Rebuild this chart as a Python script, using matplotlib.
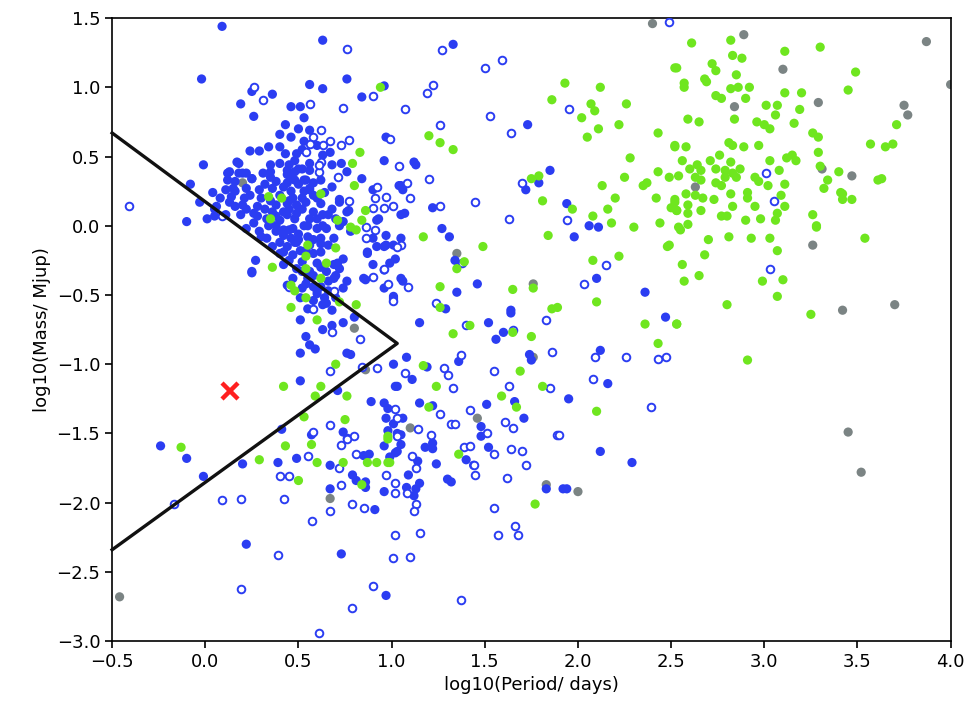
import matplotlib
matplotlib.use("Agg")
import matplotlib.pyplot as plt

blue_filled = [
(0.09,1.44),(0.63,1.34),(-0.02,1.06),(0.56,1.02),(0.63,0.99),(0.76,1.06),(0.84,0.93),(0.96,1.01),(0.25,0.97),(0.36,0.95),
(0.19,0.88),(0.46,0.86),(0.51,0.86),(0.26,0.79),(0.53,0.78),(0.56,0.69),(0.40,0.66),(0.46,0.64),(0.53,0.61),(0.34,0.57),
(0.24,0.54),(0.29,0.54),(0.43,0.52),(0.49,0.52),(0.63,0.51),(0.67,0.53),(0.97,0.64),(0.96,0.47),(1.04,0.29),(-0.01,0.44),
(0.17,0.46),(0.68,0.44),(0.73,0.45),(0.76,0.39),(0.84,0.34),(0.90,0.26),(0.72,0.19),(0.77,0.11),(0.93,0.05),(-0.08,0.30),
(-0.03,0.17),(-0.10,0.03),(0.01,0.05),(0.05,0.12),(0.13,0.39),(0.18,0.38),(0.22,0.38),(0.12,0.33),(0.16,0.32),(0.25,0.34),
(0.11,0.26),(0.15,0.27),(0.21,0.20),(0.35,0.39),(0.35,0.35),(0.52,0.20),(0.44,0.40),(0.48,0.39),(0.52,0.41),(0.56,0.45),
(0.54,0.33),(0.56,0.26),(0.44,0.31),(0.48,0.33),
(0.18,0.45),(0.45,0.44),(0.50,0.41),(0.56,0.40),
(0.12,0.38),(0.20,0.38),(0.25,0.34),(0.44,0.37),(0.47,0.34),(0.53,0.33),(0.62,0.33),
(0.16,0.25),(0.22,0.27),(0.29,0.26),(0.36,0.27),(0.46,0.25),(0.53,0.25),(0.56,0.27),
(0.06,0.14),(0.13,0.17),(0.20,0.15),(0.28,0.14),(0.38,0.15),(0.44,0.16),(0.49,0.15),(0.54,0.17),(0.62,0.16),(0.72,0.17),(0.76,0.10),
(0.05,0.07),(0.11,0.08),(0.19,0.08),(0.26,0.09),(0.38,0.07),(0.44,0.08),(0.49,0.09),(0.56,0.05),(0.63,0.08),(0.74,0.03),(0.92,0.04),(1.05,0.08),
(0.22,-0.02),(0.29,-0.04),(0.38,0.00),(0.42,-0.03),(0.47,-0.02),(0.53,0.00),(0.60,-0.02),(0.65,-0.02),(0.72,0.00),
(0.33,-0.09),(0.40,-0.12),(0.46,-0.09),(0.49,-0.12),(0.62,-0.09),(0.69,-0.09),(0.78,-0.04),(0.90,-0.09),(0.96,-0.15),(1.01,-0.14),
(0.42,-0.19),(0.47,-0.21),(0.51,-0.18),(0.58,-0.20),(0.62,-0.19),(0.74,-0.24),(0.87,-0.19),(0.90,-0.28),
(0.25,-0.33),(0.27,-0.25),(0.42,-0.28),(0.49,-0.31),(0.56,-0.33),(0.69,-0.28),(0.72,-0.31),(0.85,-0.38),(0.99,-0.27),(1.05,-0.38),
(0.47,-0.38),(0.54,-0.42),(0.62,-0.44),(0.69,-0.38),(0.76,-0.40),(1.01,-0.52),(0.96,-0.45),
(0.51,-0.52),(0.58,-0.54),(0.63,-0.57),(0.70,-0.52),
(0.32,0.12),(0.35,0.02),(0.40,0.04),(0.45,0.12),(0.52,0.12),(0.58,0.10),(0.33,0.05),(0.42,-0.07),(0.50,-0.06),(0.55,-0.08),
(0.56,-0.14),(0.52,-0.26),(0.60,-0.27),(0.65,-0.33),(0.55,-0.38),(0.60,-0.47),(0.30,0.20),(0.40,0.22),(0.47,0.20),(0.58,0.22),
(0.64,0.24),(0.68,0.12),(0.36,0.10),(0.26,0.02),(0.30,-0.08),(0.08,0.20),(0.04,0.24),(0.66,-0.14),(0.44,-0.15),(0.52,-0.45),(0.66,-0.47),
(0.32,0.30),(0.38,0.32),(0.42,0.28),(0.50,0.30),(0.58,0.31),(0.60,0.20),(0.35,0.18),(0.42,0.10),(0.48,0.05),(0.55,0.00),
(0.60,0.05),(0.63,0.00),(0.45,-0.03),(0.50,-0.10),(0.58,-0.10),(0.62,-0.13),(0.54,-0.18),(0.45,-0.25),(0.52,-0.33),(0.58,-0.36),
(0.62,-0.30),(0.66,-0.40),(0.58,-0.44),(0.64,-0.52),(0.55,-0.60),(0.48,-0.12),(0.38,-0.04),(0.34,0.00),(0.28,0.07),(0.22,0.12),
(0.16,0.14),(0.14,0.21),(0.24,0.22),(0.31,0.38),(0.40,0.45),(0.48,0.47),(0.52,0.55),(0.40,0.57),(0.60,0.58),(0.50,0.70),
(0.43,0.73),(0.35,0.44),(0.68,0.28),(0.70,0.05),(0.66,0.08),(0.45,0.18),(0.40,-0.20),(0.36,-0.15),(0.70,-0.36),(0.74,-0.45),
(0.44,-0.43),(0.60,-0.49),(0.65,-0.56),(0.68,-0.61),(0.51,-0.68),(0.63,-0.75),(0.68,-0.72),(0.74,-0.70),(0.80,-0.66),(0.54,-0.80),
(0.56,-0.86),(0.59,-0.89),(0.51,-0.92),(0.76,-0.92),(0.78,-0.93),(1.01,-1.00),(0.51,-1.12),(0.71,-1.19),(1.03,-1.16),(0.89,-1.27),
(0.96,-1.28),(0.98,-1.32),(0.97,-1.39),(1.01,-1.43),(0.98,-1.48),(1.03,-1.50),(0.57,-1.51),(0.74,-1.49),(0.41,-1.47),(1.02,-0.24),
(0.96,-0.32),(0.87,-0.20),(0.92,-0.15),(0.97,-0.14),(1.01,-0.51),(1.05,-0.09),(0.97,-0.07),(0.86,-0.39),(0.71,-0.27),(0.25,-0.34),
(-0.24,-1.59),(-0.10,-1.68),(-0.01,-1.81),(0.20,-1.72),(0.39,-1.71),(0.49,-1.68),(0.67,-1.73),(0.67,-1.90),(0.79,-1.80),(0.81,-1.84),
(0.86,-1.85),(0.86,-1.89),(0.85,-1.66),(0.88,-1.65),(0.96,-1.59),(1.03,-1.63),(0.99,-1.67),(0.96,-1.92),(0.91,-2.05),(0.22,-2.30),
(0.73,-2.37),(0.97,-2.67),(1.05,-1.51),
(1.27,-0.02),(1.31,-0.08),(1.34,-0.25),(1.06,-0.40),(1.46,-0.42),(1.35,-0.48),(1.01,-0.53),(1.29,-0.60),(1.64,-0.61),(1.64,-0.63),
(1.15,-0.70),(1.52,-0.70),(1.60,-0.77),(1.56,-0.82),(1.08,-0.95),(1.36,-0.98),(1.74,-0.93),(1.75,-0.97),(1.19,-1.02),(1.11,-1.11),
(1.02,-1.16),(1.51,-1.29),(1.66,-1.27),(1.15,-1.28),(1.22,-1.30),(1.71,-1.39),(1.06,-1.39),(1.48,-1.45),(1.48,-1.52),(1.95,-1.25),
(1.98,-0.08),(2.10,-0.38),(2.36,-0.48),(2.47,-0.66),(2.12,-0.90),(2.16,-1.14),
(1.05,-1.58),(1.02,-1.64),(1.18,-1.60),(1.22,-1.57),(1.22,-1.61),(1.14,-1.70),(1.09,-1.80),(1.08,-1.89),(1.13,-1.90),(1.12,-1.95),
(1.15,-1.86),(1.24,-1.72),(1.30,-1.83),(1.32,-1.85),(1.40,-1.69),(1.44,-1.73),(1.52,-1.60),(1.83,-1.90),(1.92,-1.90),(1.94,-1.90),
(2.12,-1.63),(2.29,-1.71),
(1.33,1.31),(1.73,0.73),(1.12,0.46),(1.13,0.44),(1.05,0.29),(1.06,0.26),(1.07,0.09),(1.22,0.13),(1.79,0.31),(1.85,0.40),
(1.72,0.26),(1.94,0.16),(2.06,0.00),(2.11,-0.01),
]

blue_open = [
(0.76,1.28),(0.31,0.91),(0.56,0.88),(0.74,0.85),(0.90,0.94),(0.26,1.00),(0.62,0.69),(0.58,0.64),(0.56,0.59),(0.54,0.53),
(0.63,0.58),(0.67,0.61),(0.77,0.62),(0.73,0.58),(0.62,0.46),(0.61,0.39),(0.71,0.35),(1.04,0.43),(0.92,0.28),(0.91,0.20),
(0.97,0.21),(1.01,0.14),(0.96,0.13),(0.90,0.13),(0.77,0.18),(0.86,-0.01),(0.91,-0.03),(-0.41,0.14),(0.09,0.07),
(0.61,0.44),(0.86,-0.09),(1.05,-0.14),(0.96,-0.31),(0.90,-0.37),(0.98,-0.42),
(0.58,-0.60),(0.68,-0.77),(0.83,-0.82),(0.67,-1.05),(0.84,-1.02),(0.92,-1.03),(1.02,-1.32),(1.03,-1.39),(0.67,-1.44),(0.76,-1.53),
(0.80,-1.52),(0.58,-1.49),(1.03,-0.15),(0.45,-0.44),(0.69,-0.47),
(-0.17,-2.01),(0.09,-1.98),(0.19,-1.97),(0.42,-1.97),(0.40,-1.81),(0.45,-1.81),(0.55,-1.66),(0.72,-1.75),(0.73,-1.87),(0.67,-2.06),
(0.57,-2.13),(0.79,-2.01),(0.85,-2.04),(0.73,-1.58),(0.76,-1.54),(0.81,-1.65),(0.97,-1.80),(1.02,-1.86),(1.02,-1.93),(1.02,-2.23),
(1.01,-2.40),(0.39,-2.38),(0.19,-2.62),(0.90,-2.60),(0.79,-2.76),(0.61,-2.94),
(1.09,-0.44),(1.01,-0.54),(1.24,-0.56),(1.40,-0.72),(1.65,-0.75),(1.83,-0.68),(1.86,-0.91),(1.37,-0.93),(1.07,-1.06),(1.28,-1.03),
(1.30,-1.08),(1.55,-1.05),(1.33,-1.17),(1.63,-1.16),(1.85,-1.17),(1.42,-1.33),(1.26,-1.36),(1.32,-1.43),(1.34,-1.43),(1.14,-1.47),
(1.61,-1.42),(1.65,-1.46),(1.51,-1.50),(1.89,-1.51),(1.21,-1.51),(2.03,-0.42),(2.15,-0.28),(2.09,-0.95),(2.08,-1.11),(2.26,-0.95),
(2.43,-0.96),(2.47,-0.95),(2.39,-1.31),(1.38,-0.27),
(1.03,-1.52),(1.11,-1.66),(1.13,-1.75),(1.08,-1.93),(1.13,-2.01),(1.12,-2.06),(1.15,-2.22),(1.10,-2.39),(1.39,-1.60),(1.42,-1.59),
(1.55,-1.65),(1.44,-1.73),(1.45,-1.80),(1.64,-1.61),(1.70,-1.63),(1.72,-1.73),(1.62,-1.82),(1.55,-2.04),(1.66,-2.17),(1.68,-2.23),
(1.57,-2.23),(1.37,-2.70),(1.90,-1.51),
(1.27,1.27),(1.50,1.14),(1.59,1.20),(1.22,1.02),(1.19,0.96),(1.07,0.84),(1.26,0.73),(1.53,0.79),(1.64,0.67),(1.20,0.34),
(1.08,0.31),(1.10,0.20),(1.26,0.14),(1.45,0.17),(1.63,0.05),(1.70,0.31),(1.95,0.84),(1.94,0.04),(2.49,1.47),(0.99,0.63),
(3.01,0.38),(3.05,0.18),(3.03,-0.31),
]

green = [
(0.94,1.00),(0.83,0.53),(0.79,0.45),(0.80,0.29),(0.62,0.23),(0.34,0.21),(0.41,0.20),(0.35,0.05),(0.71,0.04),(0.86,0.11),
(0.84,0.04),(0.78,-0.01),(0.81,-0.03),
(0.55,-0.14),(0.54,-0.22),(0.65,-0.27),(0.54,-0.31),(0.36,-0.30),(0.62,-0.38),(0.46,-0.43),(0.54,-0.52),(0.46,-0.59),(0.72,-0.55),(0.81,-0.57),
(0.70,-0.16),(0.60,-0.68),(0.70,-1.00),(0.62,-1.16),(0.59,-1.23),(0.76,-1.23),(0.42,-1.16),(0.53,-1.38),(0.75,-1.40),(0.98,-1.52),(0.48,-0.47),
(-0.13,-1.60),(0.29,-1.69),(0.43,-1.59),(0.57,-1.58),(0.60,-1.71),(0.74,-1.71),(0.50,-1.84),(0.84,-1.87),(0.87,-1.71),(0.92,-1.71),
(0.98,-1.71),(0.99,-1.71),(0.98,-1.54),
(1.17,-0.08),(1.49,-0.15),(1.39,-0.26),(1.35,-0.31),(1.26,-0.44),(1.65,-0.46),(1.76,-0.45),(1.26,-0.59),(1.42,-0.72),(1.33,-0.78),
(1.65,-0.77),(1.75,-0.80),(1.86,-0.60),(1.89,-0.59),(1.84,-0.07),(2.08,-0.25),(2.22,-0.22),(2.10,-0.55),(2.36,-0.71),(2.43,-0.85),
(2.53,-0.71),(2.48,-0.15),(1.17,-1.01),(1.69,-1.05),(1.24,-1.16),(1.59,-1.23),(1.81,-1.16),(1.67,-1.31),(1.20,-1.31),(2.10,-1.34),
(1.36,-1.65),(1.77,-2.01),
(1.20,0.65),(1.26,0.60),(1.33,0.55),(1.93,1.03),(1.86,0.91),(2.12,1.00),(2.07,0.88),(2.09,0.83),(2.02,0.78),(2.11,0.70),
(2.05,0.64),(2.26,0.88),(2.22,0.73),(2.43,0.67),(2.52,1.14),(2.52,0.58),(2.28,0.49),(2.43,0.39),(2.49,0.35),(2.25,0.35),
(2.35,0.29),(2.37,0.31),(2.13,0.29),(2.20,0.20),(2.42,0.20),(2.52,0.17),(2.50,0.13),(2.53,0.11),(2.16,0.12),(2.08,0.07),
(2.18,0.02),(2.30,-0.01),(2.44,0.02),(1.75,0.34),(1.79,0.36),(1.81,0.18),(1.97,0.12),
(2.61,1.32),(2.82,1.34),(2.83,1.23),(2.88,1.21),(2.53,1.14),(2.72,1.17),(2.74,1.12),(2.85,1.09),(2.57,1.03),(2.57,1.00),
(2.68,1.06),(2.69,1.04),(2.82,0.99),(2.86,1.00),(2.92,1.00),(2.74,0.94),(2.77,0.92),(2.90,0.92),(3.11,1.26),(3.30,1.29),
(3.49,1.11),(3.45,0.98),(3.11,0.96),(3.20,0.96),(3.01,0.87),(3.07,0.87),(3.06,0.80),(3.19,0.84),(2.59,0.77),(2.65,0.75),
(2.84,0.77),(2.96,0.75),(3.00,0.73),(3.03,0.70),(3.16,0.74),(3.26,0.67),(3.29,0.64),(3.29,0.53),(3.71,0.73),(3.57,0.59),
(3.65,0.57),(3.69,0.59),(2.52,0.57),(2.58,0.57),(2.81,0.60),(2.83,0.58),(2.89,0.57),(2.97,0.58),(2.76,0.51),(2.56,0.47),
(2.71,0.47),(2.82,0.46),(3.03,0.47),(3.12,0.49),(3.15,0.51),(3.17,0.47),(2.60,0.41),(2.64,0.44),(2.66,0.40),(2.74,0.41),
(2.79,0.40),(2.83,0.38),(2.87,0.41),(2.54,0.36),(2.63,0.35),(2.66,0.33),(2.79,0.35),(2.85,0.35),(3.08,0.40),(2.95,0.35),
(2.97,0.32),(3.02,0.29),(3.11,0.30),(3.30,0.43),(3.40,0.39),(3.34,0.33),(3.32,0.27),(3.41,0.24),(3.42,0.23),(3.42,0.19),
(3.47,0.19),(3.61,0.33),(3.63,0.34),(2.74,0.31),(2.77,0.29),(2.58,0.23),(2.63,0.22),(2.67,0.20),(2.73,0.19),(2.82,0.23),
(2.91,0.24),(2.91,0.20),(3.09,0.22),(3.11,0.14),(2.52,0.19),(2.53,0.11),(2.59,0.15),(2.59,0.09),(2.66,0.11),(2.83,0.14),
(2.95,0.14),(2.77,0.07),(2.80,0.07),(2.90,0.04),(2.98,0.05),(3.07,0.09),(3.06,0.04),(3.26,0.08),(3.28,0.00),(2.54,-0.01),(2.59,0.01),
(2.55,-0.03),(2.70,-0.10),(2.81,-0.08),(2.93,-0.09),(3.03,-0.09),(2.49,-0.14),(3.07,-0.18),(2.68,-0.21),(2.56,-0.28),(2.65,-0.36),
(2.57,-0.40),(2.99,-0.40),(3.10,-0.39),(3.07,-0.51),(2.80,-0.57),(3.25,-0.64),(2.53,-0.71),(2.91,-0.97),(3.28,-0.01),(3.54,-0.09),
]

gray = [
(0.20,0.31),(0.80,-0.74),(0.86,-1.04),(0.67,-1.97),(-0.46,-2.68),(1.35,-0.20),(1.76,-0.42),(1.76,-0.95),(1.46,-1.39),(1.10,-1.46),
(1.83,-1.87),(2.00,-1.92),(2.40,1.46),(2.89,1.38),(3.10,1.13),(2.84,0.86),(3.29,0.89),(3.75,0.87),(3.77,0.80),(3.87,1.33),
(4.00,1.02),(3.47,0.36),(3.31,0.41),(2.63,0.28),(3.26,-0.14),(3.42,-0.61),(3.70,-0.57),(3.45,-1.49),(3.52,-1.78),
]

boundary_x = [-0.5, 1.03, -0.5]
boundary_y = [0.67, -0.85, -2.34]
marked_point = (0.13, -1.19)

BLUE = '#2b3df2'
GREEN = '#6fe61f'
GRAY = '#7b8484'

fig = plt.figure(figsize=(9.75, 7.22), dpi=100)
ax = fig.add_axes([0.115, 0.112, 0.86, 0.863])

def xs(p): return [a for a, b in p]
def ys(p): return [b for a, b in p]

ax.scatter(xs(gray), ys(gray), s=44, color=GRAY, edgecolors='none', zorder=2)
ax.scatter(xs(blue_filled), ys(blue_filled), s=44, color=BLUE, edgecolors='none', zorder=3)
ax.scatter(xs(blue_open), ys(blue_open), s=30, facecolors='white', edgecolors=BLUE, linewidths=1.4, zorder=3)
ax.scatter(xs(green), ys(green), s=44, color=GREEN, edgecolors='none', zorder=4)

ax.plot(boundary_x, boundary_y, color='#111111', lw=2.4, zorder=5, clip_on=False)
ax.plot([marked_point[0]], [marked_point[1]], marker='x', color='#ff2020', ms=11, mew=3.2, zorder=6)

ax.set_xlim(-0.5, 4.0)
ax.set_ylim(-3.0, 1.5)
ax.set_xticks([-0.5, 0.0, 0.5, 1.0, 1.5, 2.0, 2.5, 3.0, 3.5, 4.0])
ax.set_yticks([-3.0, -2.5, -2.0, -1.5, -1.0, -0.5, 0.0, 0.5, 1.0, 1.5])
ax.tick_params(labelsize=13, length=5, width=1.2)
for sp in ax.spines.values():
    sp.set_linewidth(1.2)
ax.set_xlabel('log10(Period/ days)', fontsize=13)
ax.set_ylabel('log10(Mass/ Mjup)', fontsize=13)

fig.savefig('out.png', dpi=100)
